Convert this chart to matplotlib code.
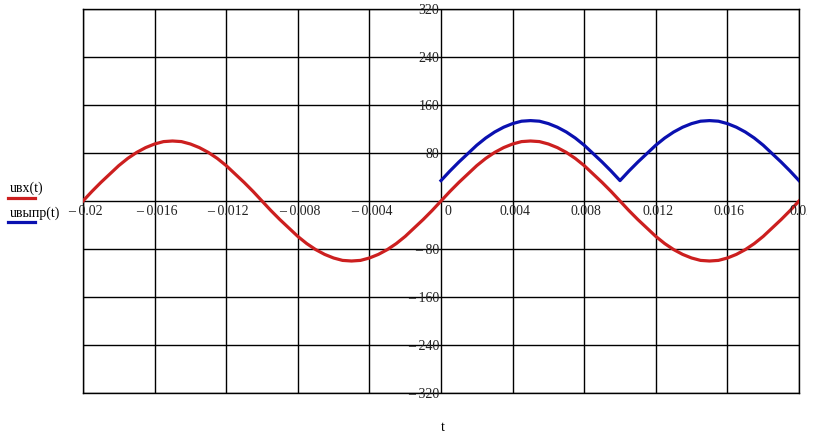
import matplotlib
matplotlib.use("Agg")
import matplotlib.pyplot as plt
import matplotlib.transforms as mtransforms

# time samples (s), step 0.0005
t_in = [-0.0200, -0.0195, -0.0190, -0.0185, -0.0180, -0.0175, -0.0170, -0.0165, -0.0160, -0.0155,
        -0.0150, -0.0145, -0.0140, -0.0135, -0.0130, -0.0125, -0.0120, -0.0115, -0.0110, -0.0105,
        -0.0100, -0.0095, -0.0090, -0.0085, -0.0080, -0.0075, -0.0070, -0.0065, -0.0060, -0.0055,
        -0.0050, -0.0045, -0.0040, -0.0035, -0.0030, -0.0025, -0.0020, -0.0015, -0.0010, -0.0005,
        0.0000, 0.0005, 0.0010, 0.0015, 0.0020, 0.0025, 0.0030, 0.0035, 0.0040, 0.0045,
        0.0050, 0.0055, 0.0060, 0.0065, 0.0070, 0.0075, 0.0080, 0.0085, 0.0090, 0.0095,
        0.0100, 0.0105, 0.0110, 0.0115, 0.0120, 0.0125, 0.0130, 0.0135, 0.0140, 0.0145,
        0.0150, 0.0155, 0.0160, 0.0165, 0.0170, 0.0175, 0.0180, 0.0185, 0.0190, 0.0195, 0.0200]
# input voltage uвх(t)
u_in = [0, 16, 31, 45, 59, 71, 81, 89, 95, 99,
        100, 99, 95, 89, 81, 71, 59, 45, 31, 16,
        0, -16, -31, -45, -59, -71, -81, -89, -95, -99,
        -100, -99, -95, -89, -81, -71, -59, -45, -31, -16,
        0, 16, 31, 45, 59, 71, 81, 89, 95, 99,
        100, 99, 95, 89, 81, 71, 59, 45, 31, 16,
        0, -16, -31, -45, -59, -71, -81, -89, -95, -99,
        -100, -99, -95, -89, -81, -71, -59, -45, -31, -16, 0]

t_out = [0.0000, 0.0005, 0.0010, 0.0015, 0.0020, 0.0025, 0.0030, 0.0035, 0.0040, 0.0045,
         0.0050, 0.0055, 0.0060, 0.0065, 0.0070, 0.0075, 0.0080, 0.0085, 0.0090, 0.0095,
         0.0100, 0.0105, 0.0110, 0.0115, 0.0120, 0.0125, 0.0130, 0.0135, 0.0140, 0.0145,
         0.0150, 0.0155, 0.0160, 0.0165, 0.0170, 0.0175, 0.0180, 0.0185, 0.0190, 0.0195, 0.0200]
# rectified voltage uвыпр(t)
u_out = [34, 50, 65, 79, 93, 105, 115, 123, 129, 133,
         134, 133, 129, 123, 115, 105, 93, 79, 65, 50,
         34, 50, 65, 79, 93, 105, 115, 123, 129, 133,
         134, 133, 129, 123, 115, 105, 93, 79, 65, 50, 34]

x_ticks = [-0.02, -0.016, -0.012, -0.008, -0.004, 0, 0.004, 0.008, 0.012, 0.016, 0.02]
x_labels = ["\u2013 0.02", "\u2013 0.016", "\u2013 0.012", "\u2013 0.008", "\u2013 0.004", "0",
            "0.004", "0.008", "0.012", "0.016", "0.02"]
y_ticks = [320, 240, 160, 80, -80, -160, -240, -320]
y_labels = ["320", "240", "160", "80", "\u2013 80", "\u2013 160", "\u2013 240", "\u2013 320"]

red = "#cc1f1f"
blue = "#0a10b0"
plt.rcParams['font.family'] = ['Liberation Serif', 'DejaVu Serif']

W, H = 821, 439
fig = plt.figure(figsize=(W / 100, H / 100), dpi=100)
fig.patch.set_facecolor("white")
ax = fig.add_axes([83 / W, (H - 394) / H, 716 / W, 384 / H])
ax.set_xlim(-0.02, 0.02)
ax.set_ylim(-320, 320)
ax.set_xticks([])
ax.set_yticks([])
for s in ax.spines.values():
    s.set_linewidth(1.0)
    s.set_color("black")

# grid
for xv in x_ticks:
    ax.axvline(xv, color="black", lw=1.0, zorder=1)
for yv in y_ticks + [0]:
    ax.axhline(yv, color="black", lw=1.0, zorder=1)

ax.plot(t_in, u_in, color=red, lw=2.3, zorder=3, solid_joinstyle="round")
ax.plot(t_out, u_out, color=blue, lw=2.3, zorder=3, solid_joinstyle="round")

# tick labels along the axes through zero
clip = mtransforms.Bbox([[0, 0], [807, H]])
for xv, lab in zip(x_ticks, x_labels):
    if xv == 0:
        tr = mtransforms.offset_copy(ax.transData, fig=fig, x=2.5, y=-7.2, units="points")
        ha = "left"
    else:
        tr = mtransforms.offset_copy(ax.transData, fig=fig, x=1.5, y=-7.2, units="points")
        ha = "center"
    txt = ax.text(xv, 0, lab, transform=tr, ha=ha, va="center", fontsize=10,
                  color="#222222", clip_on=True)
    txt.set_clip_box(clip)

for yv, lab in zip(y_ticks, y_labels):
    tr = mtransforms.offset_copy(ax.transData, fig=fig, x=-1.2, y=-0.7, units="points")
    ax.text(0, yv, lab, transform=tr, ha="right", va="center", fontsize=10,
            color="#222222", clip_on=False)

# legend on the left
fig.text(10 / W, 1 - 188 / H, "u\u0432\u0445(t)", ha="left", va="center", fontsize=10)
fig.add_artist(plt.Line2D([8 / W, 35 / W], [1 - 199 / H, 1 - 199 / H], color=red, lw=2.3))
fig.text(10 / W, 1 - 213 / H, "u\u0432\u044b\u043f\u0440(t)", ha="left", va="center", fontsize=10)
fig.add_artist(plt.Line2D([8 / W, 35 / W], [1 - 223 / H, 1 - 223 / H], color=blue, lw=2.3))

fig.text(443 / W, 1 - 428 / H, "t", ha="center", va="center", fontsize=10)

fig.savefig("out.png", dpi=100)
